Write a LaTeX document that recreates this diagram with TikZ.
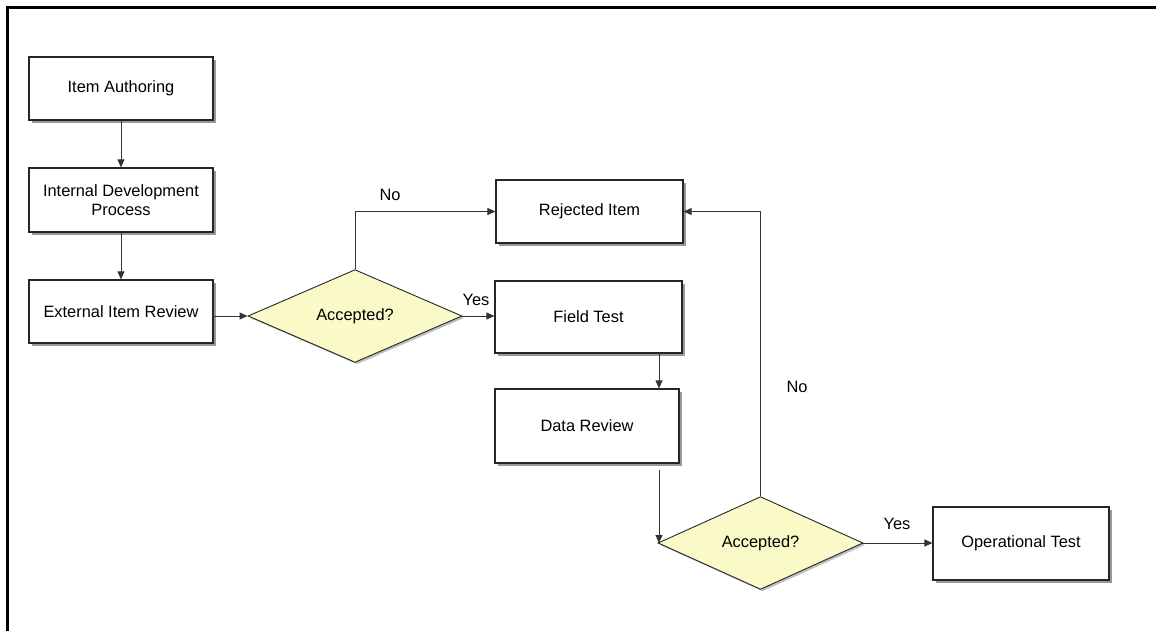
\documentclass[tikz,border=0pt]{standalone}
\usepackage{fontspec}
\setmainfont{Liberation Sans}
\usetikzlibrary{shapes.geometric, arrows.meta, shadows}

\definecolor{askfill}{RGB}{250,250,200}

\begin{document}
\begin{tikzpicture}[>={Triangle[length=8pt, width=7pt]}, x=1pt, y=-1pt,
    font=\fontsize{16.4}{19.5}\selectfont,
    stepbox/.style={draw=black!85, line width=1.2pt, fill=white, align=center,
        drop shadow={shadow xshift=2.5pt, shadow yshift=-2.5pt, fill=black!40, opacity=1}},
    askbox/.style={diamond, draw=black!85, line width=0.9pt, fill=askfill, inner sep=0pt,
        drop shadow={shadow xshift=2pt, shadow yshift=-2pt, fill=black!25, opacity=1}},
    flow/.style={->, draw=black!80, line width=0.9pt},
    answer/.style={inner sep=0pt}]

    % ── Page size and frame ──────────────────────────────────────────────────
    \useasboundingbox (0,0) rectangle (1156,630);
    \draw[line width=2.6pt] (7.5,640) -- (7.5,7.5) -- (1170,7.5);

    % ── Left column ──────────────────────────────────────────────────────────
    \node[stepbox, minimum width=184pt, minimum height=63pt] (auth)   at (121,88.5)  {Item Authoring};
    \node[stepbox, minimum width=184pt, minimum height=64pt] (intdev) at (121,200)   {Internal Development\\Process};
    \node[stepbox, minimum width=184pt, minimum height=63pt] (extrev) at (121,311.5) {External Item Review};

    % ── First decision ───────────────────────────────────────────────────────
    \node[askbox, minimum width=214pt, minimum height=87pt] (ask1) at (355,316) {Accepted?};

    % ── Middle column ────────────────────────────────────────────────────────
    \node[stepbox, minimum width=187pt, minimum height=63pt] (reject)  at (589.5,211.5) {Rejected Item};
    \node[stepbox, minimum width=187pt, minimum height=72pt] (field)   at (588.5,317)   {Field Test};
    \node[stepbox, minimum width=184pt, minimum height=74pt] (datarev) at (587,426)     {Data Review};

    % ── Second decision and last step ────────────────────────────────────────
    \node[askbox, minimum width=205pt, minimum height=87pt] (ask2) at (760.5,543) {Accepted?};
    \node[stepbox, minimum width=176pt, minimum height=73pt] (optest) at (1021,543.5) {Operational Test};

    % ── Connectors ───────────────────────────────────────────────────────────
    \draw[flow] (auth) -- (intdev);
    \draw[flow] (intdev) -- (extrev);
    \draw[flow] (extrev.east |- ask1.west) -- (ask1.west);

    \draw[flow] (ask1.north) |- (reject.west);
    \node[answer] (no1) at (390,195) {No};
    \draw[flow] (ask1.east) -- (ask1.east -| field.west);
    \node[answer] (yes1) at (476,300) {Yes};

    \coordinate (fieldout) at (659,353);
    \draw[flow] (fieldout) -- (fieldout |- datarev.north);
    \coordinate (dataout) at (659,470);
    \draw[flow] (dataout) -- (dataout |- ask2.west);

    \draw[flow] (ask2.north) |- (reject.east);
    \node[answer] (no2) at (797,387) {No};
    \draw[flow] (ask2.east) -- (ask2.east -| optest.west);
    \node[answer] (yes2) at (897,524) {Yes};

\end{tikzpicture}
\end{document}
